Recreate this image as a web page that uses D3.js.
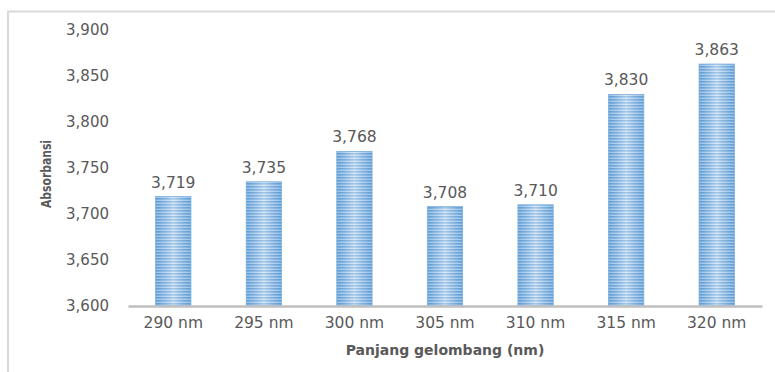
<!DOCTYPE html>
<html>
<head>
<meta charset="utf-8">
<script src="https://cdn.jsdelivr.net/npm/d3@7"></script>
<style>
  html, body { margin: 0; padding: 0; background: #fff; }
  svg { display: block; }
</style>
</head>
<body>
<svg id="chart" width="775" height="372"></svg>
<script>
// data
const categories = ['290 nm', '295 nm', '300 nm', '305 nm', '310 nm', '315 nm', '320 nm'];
const absorbance = [3.719, 3.735, 3.768, 3.708, 3.710, 3.830, 3.863];
const yTicks = [3.6, 3.65, 3.7, 3.75, 3.8, 3.85, 3.9];

const W = 775, H = 372;
const margin = { top: 30, right: 13, bottom: 66, left: 128 };
const svg = d3.select('#chart');

const fmt = v => d3.format(',.3f')(v).replace('.', ',');

// chart frame (only left and top edges are visible in the crop)
svg.append('path')
  .attr('d', `M8,${H + 5} V11.5 H${W + 5}`)
  .attr('fill', 'none')
  .attr('stroke', '#d9d9d9')
  .attr('stroke-width', 2);

const x = d3.scaleBand()
  .domain(categories)
  .range([margin.left, W - margin.right])
  .paddingInner(0.61)
  .paddingOuter(0.305);

const y = d3.scaleLinear()
  .domain([3.6, 3.9])
  .range([H - margin.bottom, margin.top]);

// striped fill with a soft highlight down the middle
const defs = svg.append('defs');
const pat = defs.append('pattern')
  .attr('id', 'stripes')
  .attr('patternUnits', 'userSpaceOnUse')
  .attr('width', 10).attr('height', 3);
pat.append('rect').attr('width', 10).attr('height', 3).attr('fill', '#bcd6ef');
pat.append('rect').attr('width', 10).attr('height', 1.6).attr('fill', '#5b9bd5');

const grad = defs.append('linearGradient').attr('id', 'shine');
grad.append('stop').attr('offset', '0%').attr('stop-color', '#5b9bd5').attr('stop-opacity', 0.35);
grad.append('stop').attr('offset', '50%').attr('stop-color', '#ffffff').attr('stop-opacity', 0.45);
grad.append('stop').attr('offset', '100%').attr('stop-color', '#5b9bd5').attr('stop-opacity', 0.35);

const bars = svg.append('g');
categories.forEach((c, i) => {
  const bx = x(c), by = y(absorbance[i]), bh = y(3.6) - y(absorbance[i]);
  bars.append('rect')
    .attr('x', bx).attr('y', by)
    .attr('width', x.bandwidth()).attr('height', bh)
    .attr('fill', 'url(#stripes)');
  bars.append('rect')
    .attr('x', bx).attr('y', by)
    .attr('width', x.bandwidth()).attr('height', bh)
    .attr('fill', 'url(#shine)')
    .attr('stroke', '#7fb0de')
    .attr('stroke-width', 0.8);
});

// y axis labels
const yAxis = svg.append('g')
  .attr('transform', `translate(${margin.left - 19},0)`)
  .call(d3.axisLeft(y).tickValues(yTicks).tickFormat(fmt).tickSize(0).tickPadding(0));
yAxis.select('.domain').remove();
yAxis.selectAll('text')
  .attr('font-family', 'DejaVu Sans, sans-serif')
  .attr('font-size', 15)
  .attr('fill', '#595959');

// x axis
const xAxis = svg.append('g')
  .attr('transform', `translate(0,${y(3.6)})`)
  .call(d3.axisBottom(x).tickSize(0).tickPadding(11));
xAxis.select('.domain')
  .attr('stroke', '#bfbfbf')
  .attr('stroke-width', 2.5);
xAxis.selectAll('text')
  .attr('font-family', 'DejaVu Sans, sans-serif')
  .attr('font-size', 15.5)
  .attr('fill', '#595959');

// value labels
svg.append('g').selectAll('text')
  .data(absorbance)
  .join('text')
  .attr('x', (d, i) => x(categories[i]) + x.bandwidth() / 2)
  .attr('y', d => y(d) - 9)
  .attr('text-anchor', 'middle')
  .attr('font-family', 'DejaVu Sans, sans-serif')
  .attr('font-size', 15.5)
  .attr('fill', '#595959')
  .text(fmt);

// axis titles
svg.append('text')
  .attr('x', (margin.left + W - margin.right) / 2)
  .attr('y', 355)
  .attr('text-anchor', 'middle')
  .attr('font-family', 'DejaVu Sans, sans-serif')
  .attr('font-weight', 'bold')
  .attr('font-size', 14)
  .attr('fill', '#595959')
  .text('Panjang gelombang (nm)');

svg.append('text')
  .attr('transform', 'translate(51,174) rotate(-90)')
  .attr('text-anchor', 'middle')
  .attr('font-family', 'DejaVu Sans Condensed, sans-serif')
  .attr('font-weight', 'bold')
  .attr('font-size', 14.5)
  .attr('textLength', 68)
  .attr('lengthAdjust', 'spacingAndGlyphs')
  .attr('fill', '#595959')
  .text('Absorbansi');
</script>
</body>
</html>
